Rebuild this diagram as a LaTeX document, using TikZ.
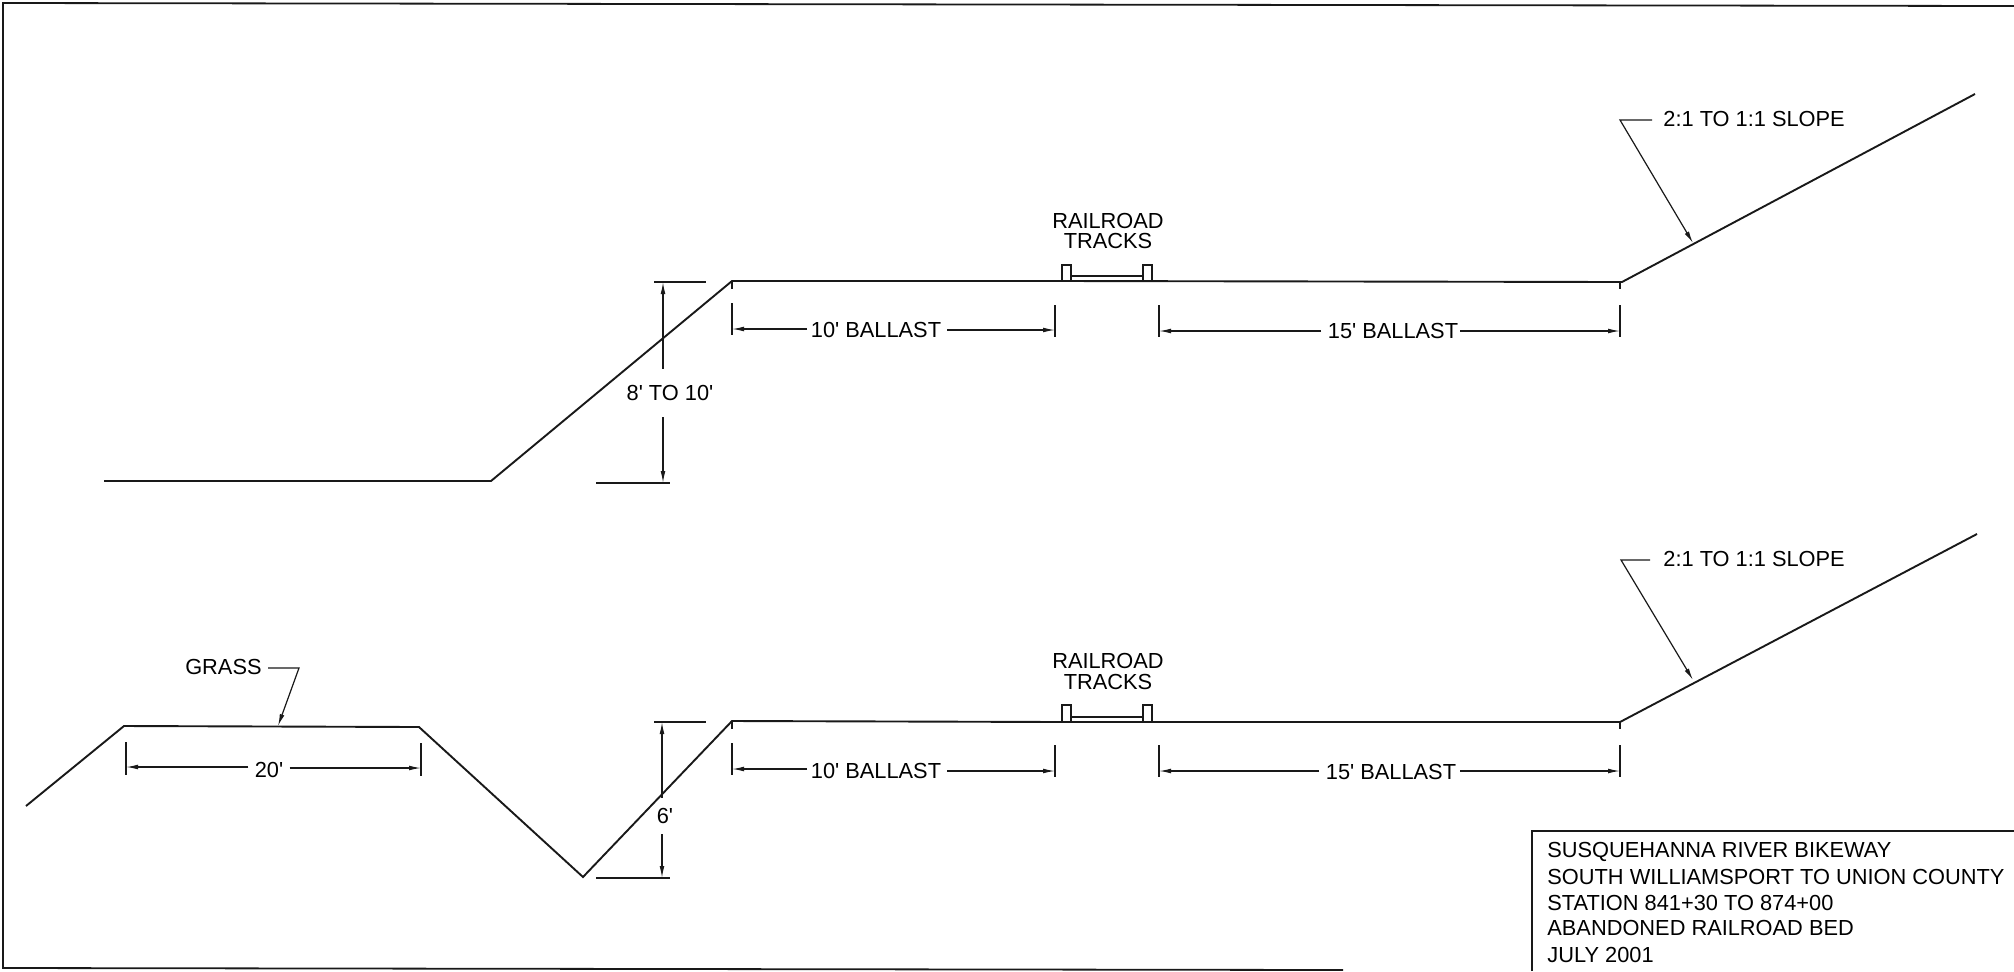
\documentclass[tikz,border=0pt]{standalone}
\usepackage{fontspec}
\usepackage{tikz}
\usetikzlibrary{arrows.meta}
\setmainfont{Liberation Sans}
\newcommand{\ftmark}{\textquotesingle}

\begin{document}
\begin{tikzpicture}[
    x=0.5pt, y=-0.5pt,
    ground/.style={line width=0.95pt, black!90},
    frameline/.style={line width=0.9pt, black!90},
    tick/.style={line width=0.6pt, black!90},
    label/.style={font=\fontsize{10.9}{12}\selectfont, inner xsep=3pt, inner ysep=8pt, align=center},
    arrow/.style={-{Latex[length=6pt,width=2.4pt]}, line width=0.6pt, black!90},
    titleline/.style={font=\fontsize{10.9}{12}\selectfont, anchor=west, inner sep=0pt}
]
\useasboundingbox (0,0) rectangle (2014,971);

% Sheet frame
\draw[frameline] (2014,6) -- (3,3) -- (3,968) -- (1343,970);

% Top section: ground
\draw[ground] (104,481) -- (491,481) -- (732,281) -- (1062,281);
\draw[ground] (1062,281) -- (1622,282) -- (1975,94);

% Top section: rails
\draw[tick] (1062,281) rectangle (1071,265);
\draw[tick] (1143,281) rectangle (1152,265);
\draw[tick] (1071,276) -- (1143,276);
\node[label] at (1108,221) (railA) {RAILROAD};
\node[label] at (1108,241) (tracksA) {TRACKS};

% Top section: height
\node[label] at (670,393) (heightA) {8\ftmark{} TO 10\ftmark};
\coordinate (heightAtop) at (663,282);
\coordinate (heightAbot) at (663,483);
\draw[arrow] (heightA.north -| heightAtop) -- (heightAtop);
\draw[arrow] (heightA.south -| heightAbot) -- (heightAbot);
\draw[tick] (654,282) -- (706,282);
\draw[tick] (596,483) -- (670,483);

% Top section: ballast
\node[label] at (876,330) (tenA) {10\ftmark{} BALLAST};
\node[label] at (1393,331) (fifteenA) {15\ftmark{} BALLAST};
\coordinate (tenAl) at (732,329);
\coordinate (tenAr) at (1055,330);
\coordinate (fifteenAl) at (1159,331);
\coordinate (fifteenAr) at (1620,331);
\draw[arrow] (tenA) ++(-69,-1) -- (tenAl);
\draw[arrow] (tenA) ++(71,0) -- (tenAr);
\draw[arrow] (fifteenA) ++(-72,0) -- (fifteenAl);
\draw[arrow] (fifteenA) ++(67,0) -- (fifteenAr);
\draw[tick] (732,281) -- (732,289);
\draw[tick] (1620,282) -- (1620,289);
\draw[tick] (732,303) -- (732,335);
\draw[tick] (1055,305) -- (1055,337);
\draw[tick] (1159,305) -- (1159,337);
\draw[tick] (1620,305) -- (1620,337);

% Top section: slope leader
\node[label, anchor=west, inner xsep=0pt] at (1663,119) (slopeA) {2:1 TO 1:1 SLOPE};
\coordinate (slopeAelbow) at (1620,120);
\coordinate (slopeAend) at (1693,243);
\draw[arrow] (1652,120) -- (slopeAelbow) -- (slopeAend);

% Bottom section: ground
\draw[ground] (26,806) -- (124,726) -- (419,727) -- (583,877) -- (732,721) -- (1062,722);
\draw[ground] (1062,722) -- (1620,722) -- (1977,534);

% Bottom section: rails
\draw[tick] (1062,722) rectangle (1071,705);
\draw[tick] (1143,722) rectangle (1152,705);
\draw[tick] (1071,717) -- (1143,717);
\node[label] at (1108,661) (railB) {RAILROAD};
\node[label] at (1108,682) (tracksB) {TRACKS};

% Bottom section: grass
\node[label, anchor=east, inner xsep=0pt] at (262,667) (grass) {GRASS};
\coordinate (grassElbow) at (299,668);
\coordinate (grassEnd) at (278,726);
\draw[arrow] (268,668) -- (grassElbow) -- (grassEnd);
\node[label, inner sep=3pt] at (269,770) (twenty) {20\ftmark};
\coordinate (twentyL) at (126,767);
\coordinate (twentyR) at (421,768);
\draw[arrow] (twenty.west |- twentyL) -- (twentyL);
\draw[arrow] (twenty.east |- twentyR) -- (twentyR);
\draw[tick] (126,742) -- (126,775);
\draw[tick] (421,743) -- (421,776);

% Bottom section: height
\node[label, inner ysep=5pt] at (665,816) (heightB) {6\ftmark};
\coordinate (heightBtop) at (662,722);
\coordinate (heightBbot) at (662,878);
\draw[arrow] (heightB.north -| heightBtop) -- (heightBtop);
\draw[arrow] (heightB.south -| heightBbot) -- (heightBbot);
\draw[tick] (654,722) -- (706,722);
\draw[tick] (596,878) -- (670,878);

% Bottom section: ballast
\node[label] at (876,771) (tenB) {10\ftmark{} BALLAST};
\node[label] at (1391,772) (fifteenB) {15\ftmark{} BALLAST};
\coordinate (tenBl) at (732,769);
\coordinate (tenBr) at (1055,771);
\coordinate (fifteenBl) at (1159,771);
\coordinate (fifteenBr) at (1620,771);
\draw[arrow] (tenB) ++(-69,-2) -- (tenBl);
\draw[arrow] (tenB) ++(71,0) -- (tenBr);
\draw[arrow] (fifteenB) ++(-72,-1) -- (fifteenBl);
\draw[arrow] (fifteenB) ++(69,-1) -- (fifteenBr);
\draw[tick] (732,722) -- (732,729);
\draw[tick] (1620,722) -- (1620,729);
\draw[tick] (732,743) -- (732,775);
\draw[tick] (1055,745) -- (1055,777);
\draw[tick] (1159,745) -- (1159,777);
\draw[tick] (1620,745) -- (1620,777);

% Bottom section: slope leader
\node[label, anchor=west, inner xsep=0pt] at (1663,559) (slopeB) {2:1 TO 1:1 SLOPE};
\coordinate (slopeBelbow) at (1621,560);
\coordinate (slopeBend) at (1693,680);
\draw[arrow] (1650,560) -- (slopeBelbow) -- (slopeBend);

% Title block
\draw[frameline] (1532,971) -- (1532,831) -- (2014,831);
\node[titleline] at (1547,852) (title1) {SUSQUEHANNA RIVER BIKEWAY};
\node[titleline] at (1547,877) (title2) {SOUTH WILLIAMSPORT TO UNION COUNTY};
\node[titleline] at (1547,903) (title3) {STATION 841+30 TO 874+00};
\node[titleline] at (1547,928) (title4) {ABANDONED RAILROAD BED};
\node[titleline] at (1547,955) (title5) {JULY 2001};

\end{tikzpicture}
\end{document}
